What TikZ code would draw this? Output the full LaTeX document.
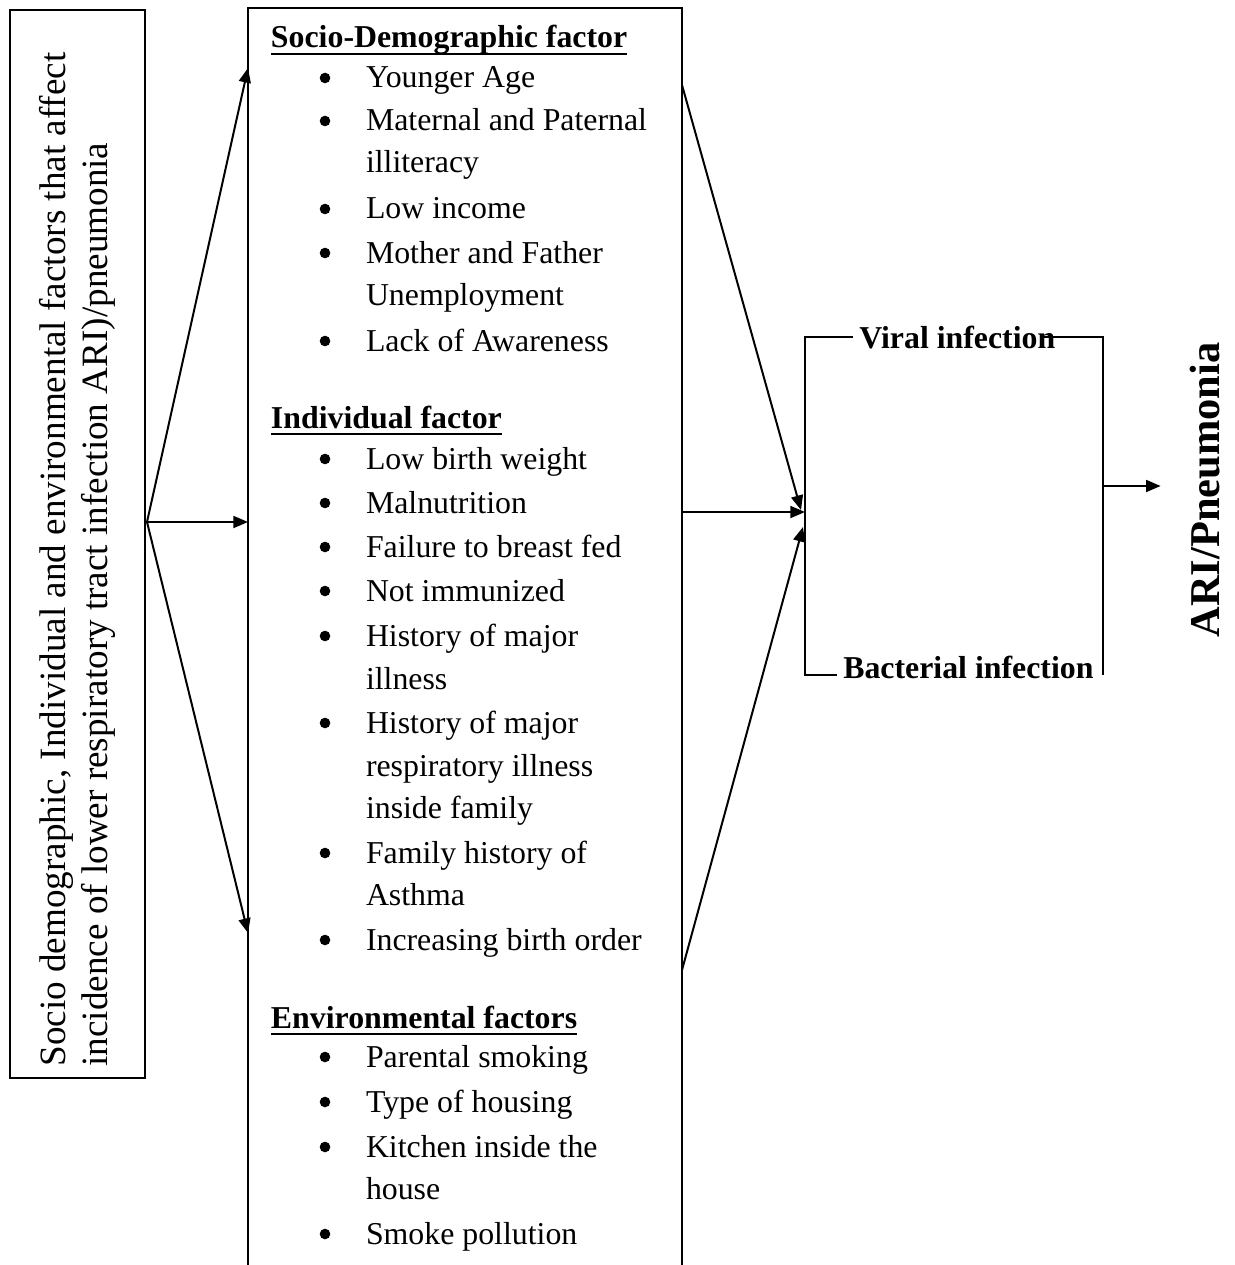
\documentclass[tikz,border=0pt]{standalone}
\usepackage{fontspec}
\setmainfont{Liberation Serif}
\usetikzlibrary{arrows.meta}

\newcommand{\hdline}[1]{\setbox0\hbox{#1}\rlap{\rule[-2.8pt]{\wd0}{1.1pt}}\box0}

\begin{document}
\begin{tikzpicture}[x=0.377pt, y=-0.377pt, line width=0.75pt,
    flow/.style={-{Triangle[length=5.5pt,width=4.5pt]}},
    head/.style={anchor=base west, inner sep=0pt, font=\fontsize{12}{14}\selectfont\bfseries},
    entry/.style={anchor=base west, inner sep=0pt, font=\fontsize{12}{14}\selectfont},
    dot/.style={circle, fill, inner sep=0pt, minimum size=4pt},
    tag/.style={anchor=base west, inner sep=2pt, font=\fontsize{12}{14}\selectfont\bfseries}]

    \useasboundingbox (0,0) rectangle (1234,1265);

    % Draw nodes
    \node[draw, rotate=90, minimum width=402.6pt, minimum height=50.9pt, text width=394pt,
          align=flush left, inner xsep=4pt, font=\fontsize{14}{16}\selectfont] (src) at (77.5,544)
        {Socio demographic, Individual and environmental factors that affect\\
         incidence of lower respiratory tract infection ARI)/pneumonia};

    % middle box, open at the bottom
    \draw (248,1270) -- (248,8) -- (682,8) -- (682,1270);

    \node[head] (sociohd) at (270,48) {\hdline{Socio-Demographic factor}};
    \node[head] (indivhd) at (270,428) {\hdline{Individual factor}};
    \node[head] (envhd) at (270,1028) {\hdline{Environmental factors}};

    \foreach \y/\t in {88/Younger Age, 131/Maternal and Paternal, 173/illiteracy,
        219/Low income, 263/Mother and Father, 305/Unemployment, 351/Lack of Awareness,
        469/Low birth weight, 513/Malnutrition, 557/Failure to breast fed,
        601/Not immunized, 646/History of major, 689/illness, 733/History of major,
        776/respiratory illness, 818/inside family, 863/Family history of, 905/Asthma,
        950/Increasing birth order, 1067/Parental smoking, 1112/Type of housing,
        1157/Kitchen inside the, 1199/house, 1244/Smoke pollution}
        \node[entry] (e\y) at (365,\y) {\t};

    \foreach \y in {88,131,219,263,351,469,513,557,601,646,733,863,950,1067,1112,1157,1244}
        \node[dot] (b\y) at (325,\y-10) {};

    \node[tag] (viral) at (853,348) {Viral infection};
    \node[tag] (bact) at (837,678) {Bacterial infection};
    \node[rotate=90, inner sep=2pt, font=\fontsize{16}{18}\selectfont\bfseries] (ari) at (1205,490) {ARI/Pneumonia};

    % Connection points
    \coordinate (srcout) at (147,522);
    \coordinate (in1) at (248,68);
    \coordinate (in2) at (248,522);
    \coordinate (in3) at (248,933);
    \coordinate (out1) at (682,85);
    \coordinate (out2) at (682,512);
    \coordinate (out3) at (682,970);
    \coordinate (join1) at (801,510);
    \coordinate (join) at (805,512);
    \coordinate (join3) at (803,527);
    \coordinate (rt) at (1103,675);
    \coordinate (pout) at (1103,486);

    % Draw connections
    \draw[flow] (srcout) -- (in1);
    \draw[flow] (srcout) -- (in2);
    \draw[flow] (srcout) -- (in3);
    \draw[flow] (out1) -- (join1);
    \draw[flow] (out2) -- (join);
    \draw[flow] (out3) -- (join3);

    % bracket
    \draw (viral.west) -| (join) |- ([yshift=1pt]bact.base west);
    \draw ([xshift=-6.5pt]viral.east) -| (rt);
    \draw[flow, shorten >=8.7pt] (pout) -- (pout -| ari.north);
\end{tikzpicture}
\end{document}
